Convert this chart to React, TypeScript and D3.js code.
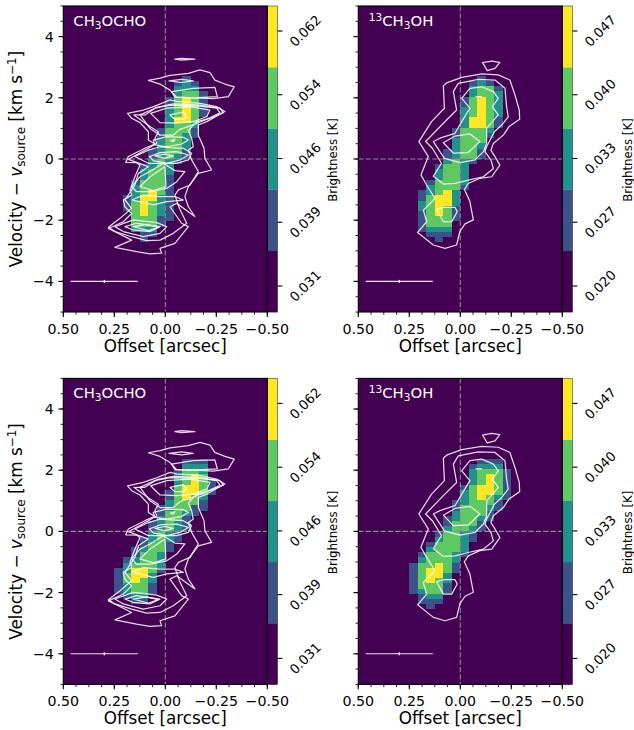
import React from "react";
import * as d3 from "d3";

type Pt = [number, number];

const CHANNEL_DV = 0.17;
const CELL_DX = 1 / 24;
const LEVEL_COLORS = ["#440154", "#3b528b", "#21918c", "#5ec962", "#fde725"];
const FORMATE_TICKS = ["0.031", "0.039", "0.046", "0.054", "0.062"];
const METHANOL_TICKS = ["0.020", "0.027", "0.033", "0.040", "0.047"];
const BAR_TICK_VALUES = [0, 1, 2, 3, 4];
const Y_MAJOR = [-4, -2, 0, 2, 4];
const X_MAJOR = [0.5, 0.25, 0, -0.25, -0.5];
const BEAM_OFFSETS: Pt = [0.464, 0.135];
const BEAM_CENTER = 0.299;
const BEAM_VELOCITY = -4;

// rows run from top channel index downward; chars are columns from offset +0.25 to -0.25 (left to right)
const FORMATE_A_TOP = 16;
const FORMATE_A = [
  "000000001000", "000000012100", "000000022200", "000000023310", "000000134310", "000000134310",
  "000000234310", "000000234310", "000000244300", "000000233200", "000001333100", "000001332100",
  "000002332000", "000002332000", "000012331000", "000012321000", "000023210000", "000123200000",
  "000233200000", "000233100000", "001333100000", "002333100000", "002343100000", "012442100000",
  "013432100000", "013432100000", "003432100000", "003331100000", "003331000000", "002220000000",
  "000110000000", "000100000000",
];
const METHANOL_B_TOP = 16;
const METHANOL_B = [
  "000000001000", "000000012100", "000000023310", "000000023320", "000000134320", "000000134320",
  "000000234320", "000000234320", "000000244310", "000000244310", "000001333200", "000001333100",
  "000002333000", "000002332000", "000012331000", "000012331000", "000023210000", "000133200000",
  "000233200000", "000233200000", "001333200000", "002333100000", "012342000000", "013442000000",
  "023442000000", "023431000000", "013431000000", "013331000000", "013330000000", "012220000000",
  "001110000000", "000100000000",
];
const FORMATE_C_TOP = 14;
const FORMATE_C = [
  "000000001110", "000000002220", "000000013320", "000000023430", "000000023431", "000000034431",
  "000000134431", "000000134320", "000000233310", "000001233110", "000001332100", "000002331000",
  "000012321000", "000012321000", "000023210000", "000123210000", "000133100000", "001233100000",
  "001332000000", "012332000000", "023332000000", "124431000000", "134420000000", "134320000000",
  "123310000000", "123310000000", "012200000000", "001100000000",
];
const METHANOL_D_TOP = 14;
const METHANOL_D = [
  "000000001110", "000000012220", "000000023331", "000000023431", "000000023431", "000000134431",
  "000000234431", "000000234321", "000001233310", "000001333210", "000002333100", "000012332100",
  "000013331000", "000023321000", "000133210000", "000233210000", "001333200000", "002333200000",
  "013332100000", "023332000000", "133431000000", "134431000000", "134420000000", "134320000000",
  "133310000000", "123310000000", "012200000000", "011100000000", "001000000000",
];

// contours: [offset arcsec, velocity km/s]
const FORMATE_CONTOURS: Pt[][] = [
  [[.083,2.57],[.026,2.64],[-.023,2.73],[-.113,2.80],[-.170,2.91],[-.219,2.82],[-.243,2.58],[-.292,2.45],[-.338,2.36],[-.309,2.04],[-.235,1.97],[-.145,2.00],[-.056,2.02],[-.023,2.25],[.026,2.45]],
  [[-.031,2.20],[-.137,2.31],[-.243,2.34],[-.255,2.04],[-.137,2.00],[-.047,2.02]],
  [[-.023,1.93],[.051,1.73],[.108,1.60],[.185,1.49],[.165,1.33],[.124,1.19],[.083,.89],[.083,.62],[.051,.49],[.100,.35],[.181,.08],[.194,-.11],[.141,-.12],[.124,-.20],[.149,-.58],[.173,-1.01],[.165,-1.18],[.206,-1.34],[.198,-1.56],[.165,-1.78],[.206,-2.05],[.279,-2.27],[.230,-2.43],[.165,-2.65],[.247,-2.89],[.141,-3.03],[.075,-3.10],[.018,-3.08],[.026,-2.92],[-.047,-2.76],[-.113,-2.21],[-.080,-2.10],[-.023,-1.56],[-.056,-1.45],[-.145,-1.88],[-.113,-1.56],[-.096,-1.23],[-.113,-.90],[-.162,-.47],[-.227,-.36],[-.194,.02],[-.190,.35],[-.162,.78],[-.162,1.11],[-.203,1.22],[-.292,1.55],[-.252,1.71],[-.170,1.82],[-.056,1.88]],
  [[.154,1.44],[.100,1.44],[.042,1.69],[-.039,1.80],[-.170,1.76],[-.268,1.66],[-.284,1.51],[-.219,1.33],[-.154,1.22],[-.113,.93],[-.129,.68],[-.137,.40],[-.113,.29],[-.129,-.03],[-.162,-.41],[-.121,-.85],[-.064,-1.01],[-.047,-1.18],[-.069,-1.61],[-.105,-2.10],[-.039,-2.43],[.026,-2.65],[.092,-2.67],[.165,-2.54],[.247,-2.37],[.279,-2.23],[.222,-1.94],[.165,-1.61],[.198,-1.34],[.149,-.85],[.132,-.47],[.083,-.25],[.181,-.01],[.083,.35],[.042,.51],[.051,.68],[.034,.89],[.075,1.06]],
  [[.124,1.44],[.051,1.66],[-.023,1.76],[-.170,1.73],[-.252,1.66],[-.268,1.51],[-.203,1.30],[-.145,1.14],[-.072,.97],[-.039,.78],[.026,.78],[.075,1.00]],
  [[.072,1.49],[-.007,1.66],[-.121,1.71],[-.219,1.60],[-.203,1.38],[-.137,1.22],[-.056,1.17],[.026,1.19]],
  [[-.023,1.44],[-.088,1.53],[-.105,1.38],[-.088,1.30],[-.047,1.30]],
  [[.059,.62],[-.007,.73],[-.088,.71],[-.113,.62],[-.080,.49],[-.007,.40],[.051,.46]],
  [[-.026,.60],[-.047,.64],[-.039,.57]],
  [[.149,.08],[.083,.29],[.026,.40],[-.088,.35],[-.129,.19],[-.113,-.03],[-.056,-.14],[.010,-.14],[.083,-.14]],
  [[.078,.08],[.026,.21],[-.056,.24],[-.113,.13],[-.072,-.03],[-.007,-.14],[.059,-.05]],
  [[.051,.10],[.002,.16],[-.039,.10],[.002,.02]],
  [[.165,-.90],[.124,-.58],[.075,-.41],[.010,-.14],[-.047,-.38],[-.096,-.41],[-.056,-.74],[-.007,-.96],[.075,-1.07],[.141,-1.07]],
  [[.124,-.90],[.075,-.58],[.002,-.25],[-.003,-.90],[.059,-1.03]],
  [[.165,-1.34],[.108,-1.18],[.026,-1.23],[-.047,-1.23],[-.088,-1.34],[-.007,-1.39],[.059,-1.50],[.124,-1.39]],
  [[.247,-2.21],[.157,-1.99],[.042,-2.08],[-.007,-2.21],[.026,-2.43],[.108,-2.54],[.206,-2.37]],
  [[.198,-2.21],[.141,-2.10],[.026,-2.21],[.075,-2.37],[.157,-2.32]],
  [[.157,-2.21],[.092,-2.14],[.034,-2.23],[.083,-2.34]],
  [[-.047,3.26],[-.080,3.29],[-.145,3.26],[-.080,3.23]],
  [[-.018,2.55],[-.080,2.60],[-.137,2.55],[-.080,2.50]],
];
const METHANOL_CONTOURS: Pt[][] = [
  [[.083,2.39],[.067,2.49],[-.007,2.67],[-.105,2.78],[-.186,2.75],[-.243,2.58],[-.268,2.09],[-.289,1.60],[-.291,1.30],[-.239,1.06],[-.211,.78],[-.162,.51],[-.150,.29],[-.170,.08],[-.194,-.20],[-.154,-.58],[-.096,-.63],[-.039,-.80],[-.020,-.99],[-.047,-1.39],[-.064,-1.99],[-.023,-2.12],[.002,-2.37],[.018,-2.81],[.075,-2.92],[.132,-2.81],[.209,-2.40],[.165,-2.05],[.181,-1.67],[.124,-1.29],[.165,-.85],[.193,-.52],[.157,.08],[.203,.57],[.141,1.22],[.078,1.66]],
  [[.034,2.20],[.010,2.47],[-.088,2.60],[-.170,2.58],[-.219,2.31],[-.227,1.71],[-.235,1.38],[-.203,1.11],[-.167,.89],[-.129,.40],[-.121,.24],[-.150,-.03],[-.162,-.31],[-.113,-.58],[-.039,-.69],[.026,-.80],[.083,-.82],[.132,-.56],[.092,-.14],[.137,.35],[.170,.57],[.083,1.17],[.018,1.60]],
  [[-.007,1.98],[-.047,2.31],[-.105,2.36],[-.162,2.20],[-.186,1.98],[-.157,1.71],[-.186,1.44],[-.129,1.00],[-.129,.51],[-.113,.24],[-.072,-.03],[.002,-.12],[.078,.02],[.132,.57],[.100,.68],[.026,.84],[-.007,1.22],[-.047,1.66]],
  [[.083,.53],[.026,.75],[-.047,.82],[-.096,.57],[-.039,.21],[.034,.19]],
  [[.116,-1.64],[.083,-1.58],[.026,-1.58],[.015,-1.72],[.042,-2.05],[.083,-2.05]],
  [[-.077,2.04],[-.105,2.04]],
  [[-.109,3.15],[-.154,3.20],[-.194,3.16],[-.170,2.96],[-.132,2.89]],
];

const W = 204;
const H = 306;
const CB_W = 10.2;
const FONT = "'DejaVu Sans', sans-serif";

const xScale = d3.scaleLinear().domain([0.5, -0.5]).range([0, W]);
const yScale = d3.scaleLinear().domain([-5, 5]).range([H, 0]);
const xMinor = d3.range(0, 17).map((i) => 0.5 - i * 0.0625);
const yMinor = d3.range(0, 21).map((i) => -5 + i * 0.5);
const linePath = d3.line<Pt>().x((d) => xScale(d[0])).y((d) => yScale(d[1])).curve(d3.curveLinearClosed);
const barScale = d3.scaleLinear().domain([4, 0]).range([25, 280]);
const colorOf = d3.scaleOrdinal<number, string>().domain(d3.range(5)).range(LEVEL_COLORS);
const fmtX = (v: number) => (v < 0 ? "\u2212" : "") + Math.abs(v).toFixed(2);
const fmtY = (v: number) => (v < 0 ? "\u2212" : "") + Math.abs(v);

function Title({ kind }: { kind: "f" | "m" }) {
  if (kind === "f") {
    return (
      <text x={10} y={19.5} fill="#fff" fontSize={14.8} fontFamily={FONT}>
        CH<tspan dy={3} fontSize={10.6}>3</tspan><tspan dy={-3}>OCHO</tspan>
      </text>
    );
  }
  return (
    <text x={10.5} y={19.5} fill="#fff" fontSize={14.8} fontFamily={FONT}>
      <tspan dy={-5} fontSize={10.6}>13</tspan><tspan dy={5}>CH</tspan><tspan dy={3} fontSize={10.6}>3</tspan><tspan dy={-3}>OH</tspan>
    </text>
  );
}

function Panel(props: {
  left: number; top: number; rows: string[]; topK: number; contours: Pt[][];
  kind: "f" | "m"; ticks: string[]; yLabels: boolean;
}) {
  const { left, top, rows, topK, contours, kind, ticks, yLabels } = props;
  const cellColStart = -6;
  return (
    <g transform={`translate(${left},${top})`}>
      <rect width={W} height={H} fill={LEVEL_COLORS[0]} />
      {rows.map((row, r) =>
        row.split("").map((ch, i) => {
          const lvl = +ch;
          if (lvl === 0) return null;
          const c = cellColStart + i;
          const x0 = xScale(-c * CELL_DX);
          const x1 = xScale(-(c + 1) * CELL_DX);
          const k = topK - r;
          const y0 = yScale(k * CHANNEL_DV);
          const y1 = yScale((k - 1) * CHANNEL_DV);
          return <rect key={`${r}-${i}`} x={x0} y={y0} width={x1 - x0} height={y1 - y0} fill={colorOf(lvl)} shapeRendering="crispEdges" />;
        })
      )}
      <line x1={xScale(0)} x2={xScale(0)} y1={0} y2={H} stroke="#8c8c8c" strokeWidth={1.1} strokeDasharray="5.2 2.2" />
      <line x1={0} x2={W} y1={yScale(0)} y2={yScale(0)} stroke="#8c8c8c" strokeWidth={1.1} strokeDasharray="5.2 2.2" />
      {contours.map((c, i) => (
        <path key={i} d={linePath(c) ?? ""} fill="none" stroke="#fff" strokeWidth={1.25} strokeOpacity={0.85} strokeLinejoin="round" />
      ))}
      <line x1={xScale(BEAM_OFFSETS[0])} x2={xScale(BEAM_OFFSETS[1])} y1={yScale(BEAM_VELOCITY)} y2={yScale(BEAM_VELOCITY)} stroke="#fff" strokeOpacity={0.9} strokeWidth={1.1} />
      <line x1={xScale(BEAM_CENTER)} x2={xScale(BEAM_CENTER)} y1={yScale(BEAM_VELOCITY) - 1.5} y2={yScale(BEAM_VELOCITY) + 1.5} stroke="#fff" strokeOpacity={0.9} strokeWidth={1.4} />
      <Title kind={kind} />

      {/* colour bar */}
      {LEVEL_COLORS.map((col, i) => (
        <rect key={col} x={W} y={(H * (4 - i)) / 5} width={CB_W} height={H / 5 + 0.2} fill={col} />
      ))}
      <rect x={W} y={0} width={CB_W} height={H} fill="none" stroke="#000" strokeOpacity={0.55} strokeWidth={0.8} />
      {BAR_TICK_VALUES.map((t, i) => {
        const y = barScale(t);
        return (
          <g key={t}>
            <line x1={W + CB_W} x2={W + CB_W + 4.9} y1={y} y2={y} stroke="#000" strokeWidth={1.1} />
            <text transform={`translate(${W + 38},${y}) rotate(-45)`} textAnchor="middle" dominantBaseline="central" fontSize={13.2} fontFamily={FONT} fill="#000">
              {ticks[i]}
            </text>
          </g>
        );
      })}
      <text transform={`translate(${W + 65.5},${H / 2 + 1}) rotate(-90)`} textAnchor="middle" dominantBaseline="central" fontSize={11.8} fontFamily={FONT} fill="#000">
        Brightness [K]
      </text>

      {/* axes */}
      <rect width={W} height={H} fill="none" stroke="#000" strokeWidth={1.1} />
      {xMinor.map((v) => (
        <line key={v} x1={xScale(v)} x2={xScale(v)} y1={H} y2={H + 2.8} stroke="#000" strokeWidth={0.85} />
      ))}
      {X_MAJOR.map((v) => (
        <g key={v}>
          <line x1={xScale(v)} x2={xScale(v)} y1={H} y2={H + 4.9} stroke="#000" strokeWidth={1.1} />
          <text x={xScale(v)} y={H + 21.5} textAnchor="middle" fontSize={14.2} fontFamily={FONT} fill="#000">{fmtX(v)}</text>
        </g>
      ))}
      <text x={W / 2} y={H + 40} textAnchor="middle" fontSize={16.8} fontFamily={FONT} fill="#000">Offset [arcsec]</text>
      {yMinor.map((v) => (
        <line key={v} x1={-2.8} x2={0} y1={yScale(v)} y2={yScale(v)} stroke="#000" strokeWidth={0.85} />
      ))}
      {Y_MAJOR.map((v) => (
        <g key={v}>
          <line x1={-4.9} x2={0} y1={yScale(v)} y2={yScale(v)} stroke="#000" strokeWidth={1.1} />
          {yLabels && (
            <text x={-9.5} y={yScale(v) + 5} textAnchor="end" fontSize={14.2} fontFamily={FONT} fill="#000">{fmtY(v)}</text>
          )}
        </g>
      ))}
      {yLabels && (
        <text transform={`translate(-41,${H / 2}) rotate(-90)`} textAnchor="middle" fontSize={16.8} fontFamily={FONT} fill="#000">
          Velocity {"\u2212"} <tspan fontStyle="italic">v</tspan><tspan dy={3} fontSize={12}>source</tspan><tspan dy={-3}> [km s</tspan><tspan dy={-6} fontSize={12}>{"\u2212"}1</tspan><tspan dy={6}>]</tspan>
        </text>
      )}
    </g>
  );
}

export default function App() {
  return (
    <svg width={634} height={730} viewBox="0 0 634 730" style={{ position: "absolute", left: 0, top: 0, background: "#fff" }}>
      <Panel left={63.3} top={6} rows={FORMATE_A} topK={FORMATE_A_TOP} contours={FORMATE_CONTOURS} kind="f" ticks={FORMATE_TICKS} yLabels />
      <Panel left={358.3} top={6} rows={METHANOL_B} topK={METHANOL_B_TOP} contours={METHANOL_CONTOURS} kind="m" ticks={METHANOL_TICKS} yLabels={false} />
      <Panel left={63.3} top={378.4} rows={FORMATE_C} topK={FORMATE_C_TOP} contours={FORMATE_CONTOURS} kind="f" ticks={FORMATE_TICKS} yLabels />
      <Panel left={358.3} top={378.4} rows={METHANOL_D} topK={METHANOL_D_TOP} contours={METHANOL_CONTOURS} kind="m" ticks={METHANOL_TICKS} yLabels={false} />
    </svg>
  );
}
